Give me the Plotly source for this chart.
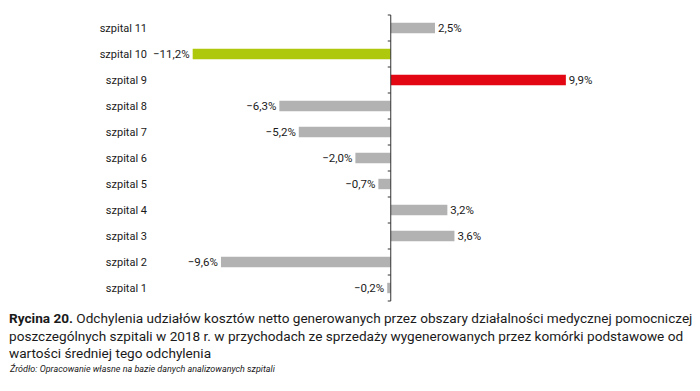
import plotly.graph_objects as go

categories = ["szpital 1", "szpital 2", "szpital 3", "szpital 4", "szpital 5", "szpital 6",
              "szpital 7", "szpital 8", "szpital 9", "szpital 10", "szpital 11"]
values = [-0.2, -9.6, 3.6, 3.2, -0.7, -2.0, -5.2, -6.3, 9.9, -11.2, 2.5]
labels = ["\u22120,2%", "\u22129,6%", "3,6%", "3,2%", "\u22120,7%", "\u22122,0%",
          "\u22125,2%", "\u22126,3%", "9,9%", "\u221211,2%", "2,5%"]
highlight = {"szpital 9": "#e30613", "szpital 10": "#aec80e"}
base_color = "#b2b2b2"

colors = [highlight.get(c, base_color) for c in categories]

FONT = "Roboto, 'Open Sans', sans-serif"

x_min, x_max = -13.5, 12.0
L, R, T, B = 152, 97, 15, 90
plot_w = 700 - L - R
plot_h = 391 - T - B

fig = go.Figure()
fig.add_trace(go.Bar(
    y=categories, x=values, orientation="h",
    marker=dict(color=colors, line=dict(width=0)),
    text=labels, textposition="outside", cliponaxis=False, constraintext="none",
    textfont=dict(family=FONT, size=11.5, color="#1a1a1a"),
    hoverinfo="skip", showlegend=False,
))

n = len(categories)
fig.update_layout(
    width=700, height=391,
    margin=dict(l=L, r=R, t=T, b=B, autoexpand=False),
    paper_bgcolor="white", plot_bgcolor="white",
    bargap=0.6,
    font=dict(family=FONT, size=12, color="#1a1a1a"),
    xaxis=dict(range=[x_min, x_max], visible=False, showgrid=False, zeroline=False),
    yaxis=dict(type="category", categoryorder="array", categoryarray=categories,
               range=[-0.5, n - 0.5], showline=False, ticks="", showgrid=False,
               automargin=False, ticklabelstandoff=4,
               tickfont=dict(family=FONT, size=11, color="#1a1a1a")),
)

# vertical axis at zero with ticks at category boundaries
axis_color = "#333333"
fig.add_shape(type="line", xref="x", yref="paper", x0=0, x1=0, y0=0, y1=1,
              line=dict(color=axis_color, width=1), layer="above")
tick_len_units = 3 * (x_max - x_min) / plot_w
for i in range(n + 1):
    fig.add_shape(type="line", xref="x", yref="paper", x0=-tick_len_units, x1=0,
                  y0=i / n, y1=i / n, line=dict(color=axis_color, width=1), layer="above")

caption = ("<b>Rycina 20.</b> Odchylenia udziałów kosztów netto generowanych przez obszary działalności medycznej pomocniczej<br>"
           "poszczególnych szpitali w 2018 r. w przychodach ze sprzedaży wygenerowanych przez komórki podstawowe od<br>"
           "wartości średniej tego odchylenia")
source = "<i>Źródło: Opracowanie własne na bazie danych analizowanych szpitali</i>"

fig.add_annotation(text=caption, xref="paper", yref="paper",
                   x=(7 - L) / plot_w, y=-(308 - (T + plot_h)) / plot_h, xanchor="left", yanchor="top",
                   align="left", showarrow=False,
                   font=dict(family=FONT, size=13.6, color="#1a1a1a"))
fig.add_annotation(text=source, xref="paper", yref="paper",
                   x=(7 - L) / plot_w, y=-(361 - (T + plot_h)) / plot_h, xanchor="left", yanchor="top",
                   align="left", showarrow=False,
                   font=dict(family=FONT, size=9, color="#1a1a1a"))

fig.write_html("out.html", config={"displayModeBar": False},
               post_script="document.body.style.margin='0';")
